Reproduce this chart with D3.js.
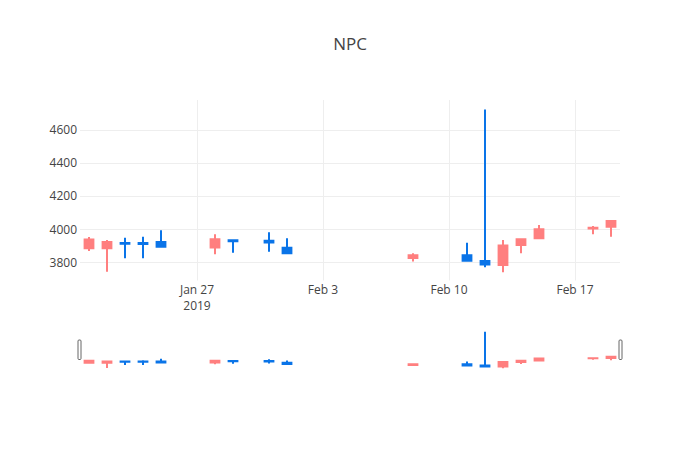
<!DOCTYPE html>
<html>
<head>
<meta charset="utf-8">
<script src="https://cdn.jsdelivr.net/npm/d3@7"></script>
<style>
  body { margin: 0; background: #fff; }
  svg { font-family: "Open Sans", sans-serif; }
</style>
</head>
<body>
<svg id="chart" width="700" height="450"></svg>
<script>
// ---- data ----
const dates = ["2019-01-21","2019-01-22","2019-01-23","2019-01-24","2019-01-25",
  "2019-01-28","2019-01-29","2019-01-31","2019-02-01","2019-02-08",
  "2019-02-11","2019-02-12","2019-02-13","2019-02-14","2019-02-15",
  "2019-02-18","2019-02-19"];
const open  = [3884, 3884, 3917, 3917, 3922, 3890, 3933, 3930, 3888, 3826, 3842, 3808, 3784, 3904, 3945, 4004, 4014];
const high  = [3952, 3934, 3948, 3954, 3993, 3969, 3934, 3981, 3945, 3854, 3918, 4722, 3934, 3940, 4025, 4019, 4050];
const low   = [3868, 3743, 3824, 3824, 3893, 3848, 3858, 3864, 3850, 3804, 3806, 3770, 3740, 3854, 3944, 3969, 3954];
const close = [3938, 3922, 3912, 3911, 3894, 3939, 3927, 3920, 3854, 3842, 3810, 3786, 3902, 3939, 3999, 4009, 4049];
const yTicks = [3800, 4000, 4200, 4400, 4600];
const xTicks = ["2019-01-27", "2019-02-03", "2019-02-10", "2019-02-17"];
const xRange = ["2019-01-20T12:00", "2019-02-19T12:00"];
const yRange = [3690, 4780];
const title = "NPC";
const upColor = "#ff7f7f";
const downColor = "#0a74e8";

const parse = d3.utcParse("%Y-%m-%d");
const parseT = d3.utcParse("%Y-%m-%dT%H:%M");
const data = dates.map((d, i) => ({ date: parse(d), o: open[i], h: high[i], l: low[i], c: close[i] }));

const svg = d3.select("#chart");
const L = 80, R = 620, T = 100, B = 280.5;
const sT = 329.5, sB = 370;

const x = d3.scaleUtc().domain(xRange.map(parseT)).range([L, R]);
const y = d3.scaleLinear().domain(yRange).range([B, T]);
const ys = d3.scaleLinear().domain(yRange).range([sB, sT]);

// title
svg.append("text").attr("x", 350).attr("y", 50).attr("text-anchor", "middle")
  .attr("font-size", 17).attr("fill", "#444").text(title);

// grid
const g = svg.append("g");
g.selectAll(".hg").data(yTicks).join("line")
  .attr("x1", L).attr("x2", R)
  .attr("y1", d => Math.round(y(d)) + 0.5).attr("y2", d => Math.round(y(d)) + 0.5)
  .attr("stroke", "#eee").attr("stroke-width", 1);
g.selectAll(".vg").data(xTicks.map(parse)).join("line")
  .attr("x1", d => Math.round(x(d)) + 0.5).attr("x2", d => Math.round(x(d)) + 0.5)
  .attr("y1", T).attr("y2", B)
  .attr("stroke", "#eee").attr("stroke-width", 1);

// y axis labels
const yAxis = d3.axisLeft(y).tickValues(yTicks).tickSize(0).tickPadding(3).tickFormat(d3.format("d"));
const ya = svg.append("g").attr("transform", `translate(${L},0)`).call(yAxis);
ya.select(".domain").remove();
ya.selectAll("text").attr("font-size", 12).attr("fill", "#444").attr("font-family", "Open Sans");

// x axis labels
const fmt = d3.utcFormat("%b %-d");
const xa = svg.append("g");
xTicks.map(parse).forEach((d, i) => {
  const t = xa.append("text").attr("x", x(d)).attr("y", 294).attr("text-anchor", "middle")
    .attr("font-size", 12).attr("fill", "#444").text(fmt(d));
  if (i === 0) {
    xa.append("text").attr("x", x(d)).attr("y", 310).attr("text-anchor", "middle")
      .attr("font-size", 12).attr("fill", "#444").text(d3.utcFormat("%Y")(d));
  }
});

// candles
const halfW = 4.4;
function drawCandles(group, yy) {
  const cg = group.selectAll("g.c").data(data).join("g").attr("class", "c");
  cg.append("path")
    .attr("d", d => {
      const cx = x(d.date);
      const top = yy(Math.max(d.o, d.c)), bot = yy(Math.min(d.o, d.c));
      return `M${cx - halfW},${bot}H${cx + halfW}V${top}H${cx - halfW}Z` +
             `M${cx},${bot}V${yy(d.l)}M${cx},${top}V${yy(d.h)}`;
    })
    .attr("fill", d => d.c >= d.o ? upColor : downColor)
    .attr("stroke", d => d.c >= d.o ? upColor : downColor)
    .attr("stroke-width", 2);
}
const clipMain = svg.append("defs");
drawCandles(svg.append("g"), y);

// range slider
const rs = svg.append("g");
rs.append("rect").attr("x", L).attr("y", sT).attr("width", R - L).attr("height", sB - sT).attr("fill", "#fff");
drawCandles(rs.append("g"), ys);
[x.range()[0] - 2, x.range()[1] - 1].forEach(hx => {
  rs.append("rect").attr("x", hx).attr("y", sT + 10.5).attr("width", 3).attr("height", 19.5)
    .attr("rx", 1).attr("fill", "#fff").attr("stroke", "#666").attr("stroke-width", 1);
});
</script>
</body>
</html>
